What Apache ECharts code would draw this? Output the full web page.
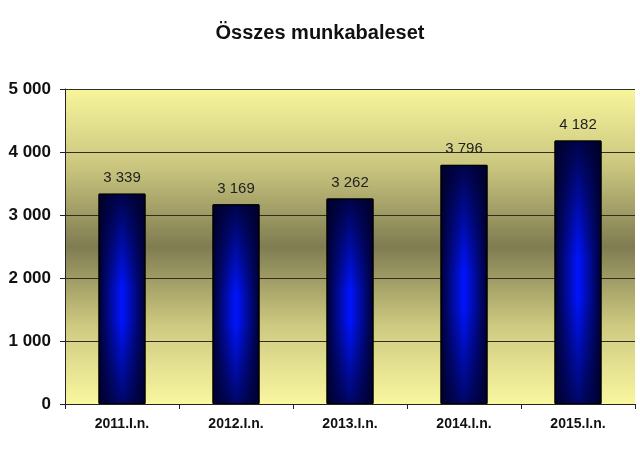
<!DOCTYPE html>
<html>
<head>
<meta charset="utf-8">
<script src="https://cdn.jsdelivr.net/npm/echarts@6/dist/echarts.min.js"></script>
<style>html,body{margin:0;padding:0;background:#fff}#c{width:640px;height:457px}</style>
</head>
<body>
<div id="c"></div>
<script>
var titleText = "Összes munkabaleset";
var categories = ["2011.I.n.", "2012.I.n.", "2013.I.n.", "2014.I.n.", "2015.I.n."];
var values = [3339, 3169, 3262, 3796, 4182];
var yMin = 0, yMax = 5000, yStep = 1000;

function fmt(v){ return String(v).replace(/\B(?=(\d{3})+(?!\d))/g, " "); }

var chart = echarts.init(document.getElementById('c'));
var LG = echarts.graphic.LinearGradient;
chart.setOption({
  animation: false,
  backgroundColor: '#ffffff',
  title: {
    text: titleText, left: 'center', top: 18,
    textStyle: { fontFamily: 'Liberation Sans, Arial', fontWeight: 'bold', fontSize: 20, color: '#111' }
  },
  grid: {
    left: 65, right: 5, top: 89, bottom: 53, show: true, borderWidth: 0,
    backgroundColor: new LG(0, 0, 0, 1, [
      { offset: 0, color: '#f8f59c' },
      { offset: 0.25, color: '#c9c57e' },
      { offset: 0.5, color: '#7f7c52' },
      { offset: 0.75, color: '#cdc980' },
      { offset: 1, color: '#faf7a0' }
    ])
  },
  xAxis: {
    type: 'category', data: categories,
    axisLine: { lineStyle: { color: '#222', width: 1 } },
    axisTick: { show: true, length: 5, lineStyle: { color: '#222' } },
    axisLabel: { fontFamily: 'Liberation Sans, Arial', fontWeight: 'bold', fontSize: 14, color: '#111', margin: 13 }
  },
  yAxis: {
    type: 'value', min: yMin, max: yMax, interval: yStep,
    axisLine: { show: true, lineStyle: { color: '#222' } },
    axisTick: { show: true, length: 5, lineStyle: { color: '#222' } },
    splitLine: { lineStyle: { color: '#2e2e22', width: 1 } },
    axisLabel: { fontFamily: 'Liberation Sans, Arial', fontWeight: 'bold', fontSize: 17, color: '#111', margin: 14, formatter: fmt }
  },
  series: [
    {
      type: 'bar', data: values, barWidth: 47,
      itemStyle: {
        borderColor: '#000', borderWidth: 1,
        color: new LG(0, 0, 1, 0, [
          { offset: 0, color: '#00002e' },
          { offset: 0.5, color: '#0014ff' },
          { offset: 1, color: '#00002e' }
        ])
      },
      label: { show: true, position: 'top', distance: 8, fontFamily: 'Liberation Sans, Arial', fontSize: 15, color: '#222', formatter: function(p){ return fmt(p.value); } },
      z: 2
    },
    {
      type: 'bar', data: values, barWidth: 47, barGap: '-100%', silent: true,
      itemStyle: {
        borderColor: '#000', borderWidth: 1,
        color: new LG(0, 0, 0, 1, [
          { offset: 0, color: 'rgba(0,0,40,0.85)' },
          { offset: 0.45, color: 'rgba(0,0,40,0)' },
          { offset: 0.6, color: 'rgba(0,0,40,0)' },
          { offset: 1, color: 'rgba(0,0,40,0.7)' }
        ])
      },
      z: 3
    }
  ]
});
</script>
</body>
</html>
